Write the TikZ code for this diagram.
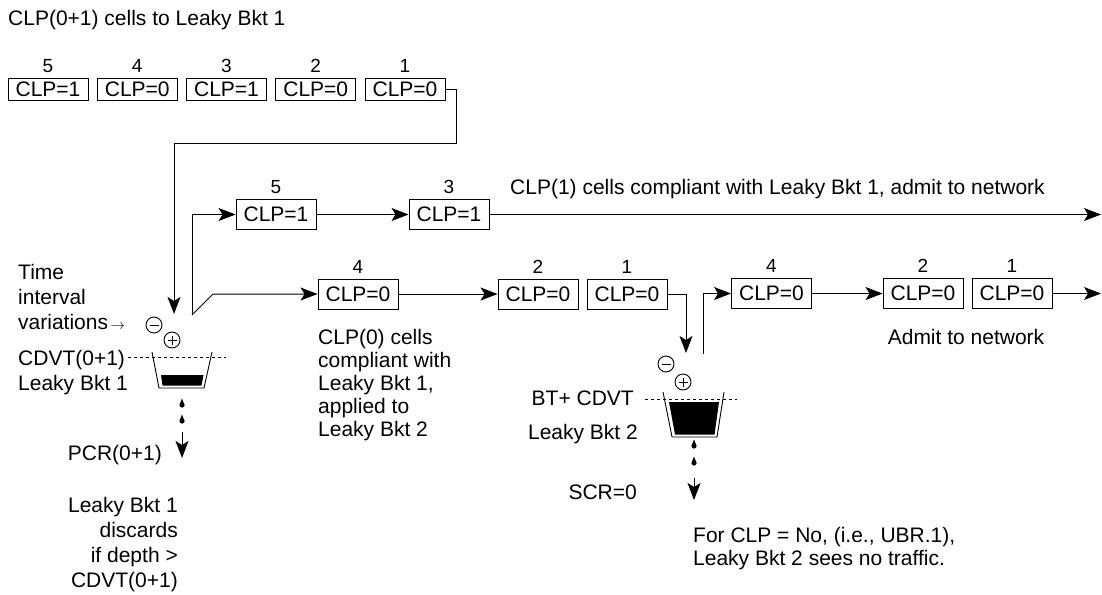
\documentclass[tikz,border=0pt]{standalone}
\usepackage{fontspec}
\setmainfont{Liberation Sans}
\usetikzlibrary{arrows.meta,positioning}
\tikzset{
  cell/.style={draw,line width=0.9pt,minimum width=80pt,minimum height=30pt,inner sep=0pt},
  topcell/.style={cell,minimum height=22pt},
  num/.style={inner sep=0pt,yshift=5pt,font=\fontsize{19}{19}\selectfont},
  flow/.style={line width=1pt,-{Stealth[length=17pt,width=13pt,inset=4pt]}},
  rim/.style={line width=0.9pt},
  levelline/.style={line width=0.7pt,dash pattern=on 3pt off 3pt},
  sign/.style={circle,draw,line width=0.9pt,minimum size=16pt,inner sep=0pt},
  minus/.style={sign,path picture={\draw[line width=1pt] ([xshift=-4.5pt]path picture bounding box.center) -- ([xshift=4.5pt]path picture bounding box.center);}},
  plus/.style={sign,path picture={\draw[line width=1pt] ([xshift=-4.5pt]path picture bounding box.center) -- ([xshift=4.5pt]path picture bounding box.center) ([yshift=-4.5pt]path picture bounding box.center) -- ([yshift=4.5pt]path picture bounding box.center);}},
  droplet/.pic={\fill (0,-6.5) -- (-2.6,0) arc[start angle=180,end angle=0,radius=2.6] -- cycle;},
  txt/.style={inner sep=0pt,align=left}
}

\begin{document}
\begin{tikzpicture}[x=1pt,y=-1pt,every node/.style={font=\fontsize{21}{25}\selectfont}]
  \useasboundingbox (0,0) rectangle (1102,594);
  \node[txt,anchor=base west] (title) at (8,25.5) {CLP(0+1) cells to Leaky Bkt 1};
  \foreach \n/\v [count=\i from 0] in {5/1,4/0,3/1,2/0,1/0}
    \node[topcell,label={[num]above:\n}] (t\n) at (48+89.25*\i,89) {CLP=\v};

  \node[cell,label={[num]above:5}] (a5) at (276,214.5) {CLP=1};
  \node[cell,label={[num]above:3}] (a3) at (449,214.5) {CLP=1};
  \node[cell,label={[num]above:4}] (b4) at (358,294) {CLP=0};
  \node[cell,label={[num]above:2}] (b2) at (538,294) {CLP=0};
  \node[cell,label={[num]above:1}] (b1) at (627,294) {CLP=0};
  \node[cell,label={[num]above:4}] (c4) at (771.5,293.5) {CLP=0};
  \node[cell,label={[num]above:2}] (c2) at (923,293.5) {CLP=0};
  \node[cell,label={[num]above:1}] (c1) at (1012,293.5) {CLP=0};

  % leaky bucket 1
  \draw[rim] (152,352) -- (159,388) -- (204,388) -- (212,352);
  \fill (161,375) -- (203.5,375) -- (201.5,385.5) -- (162.5,385.5) -- cycle;
  \draw[levelline] (128,357) -- (226,357);
  \node[minus] (m1) at (154,325) {};
  \node[plus] (p1) at (172,340) {};
  \pic at (182,405) {droplet};
  \pic at (182,421) {droplet};
  \coordinate (in1) at (174,314);
  \coordinate (out1) at (192,315);
  \coordinate (leak1) at (182,432);
  \coordinate (rate1) at (182,458);

  % leaky bucket 2
  \draw[rim] (663,392) -- (672,437) -- (717,437) -- (724,392);
  \fill (669,402) -- (719,402) -- (714.5,434.5) -- (675,434.5) -- cycle;
  \draw[levelline] (645,399) -- (737,399);
  \node[minus] (m2) at (666,364) {};
  \node[plus] (p2) at (683,382) {};
  \pic at (694,446) {droplet};
  \pic at (694,463) {droplet};
  \coordinate (in2) at (686,353);
  \coordinate (out2) at (703,354);
  \coordinate (leak2) at (694,478);
  \coordinate (rate2) at (694,500);

  \coordinate (edgeA) at (1101,214.5);
  \coordinate (edgeC) at (1101,293.5);

  \draw[flow] (t1.east) -| (456,143) -| (in1);
  \draw[flow] (out1) |- (a5.west);
  \draw[flow] (out1) -- (213,294) -- (b4.west);
  \draw[flow] (a5.east) -- (a3.west);
  \draw[flow] (a3.east) -- (edgeA);
  \draw[flow] (b4.east) -- (b2.west);
  \draw[flow] (b1.east) -| (in2);
  \draw[flow] (out2) |- (c4.west);
  \draw[flow] (c4.east) -- (c2.west);
  \draw[flow] (c1.east) -- (edgeC);
  \draw[flow] (leak1) -- (rate1);
  \draw[flow] (leak2) -- (rate2);

  \node[txt,anchor=base west] (clp1) at (510,194.5) {CLP(1) cells compliant with Leaky Bkt 1, admit to network};
  \node[txt,anchor=north west] (tiv) at (18,264.5) {Time\\interval\\variations{\fontsize{15}{15}\selectfont\,$\rightarrow$}};
  \node[txt,anchor=base west] (cdvt1) at (18,365.5) {CDVT(0+1)};
  \node[txt,anchor=base west] (bkt1) at (18,390.5) {Leaky Bkt 1};
  \node[txt,anchor=base east] (pcr) at (162,460.5) {PCR(0+1)};
  \node[txt,align=right,anchor=north east] (disc) at (178,497.5) {Leaky Bkt 1\\discards\\if depth >\\CDVT(0+1)};
  \node[txt,anchor=north west,font=\fontsize{21}{23}\selectfont] (clp0) at (318,329.5) {CLP(0) cells\\compliant with\\Leaky Bkt 1,\\applied to\\Leaky Bkt 2};
  \node[txt,anchor=base] (admit) at (966,344.5) {Admit to network};
  \node[txt,anchor=base east] (btc) at (634,405.5) {BT+ CDVT};
  \node[txt,anchor=base east] (bkt2) at (638,439.5) {Leaky Bkt 2};
  \node[txt,anchor=base east] (scr) at (637,499.5) {SCR=0};
  \node[txt,anchor=north west,font=\fontsize{21}{23}\selectfont] (noclp) at (693,527.5) {For CLP = No, (i.e., UBR.1),\\Leaky Bkt 2 sees no traffic.};
\end{tikzpicture}
\end{document}
